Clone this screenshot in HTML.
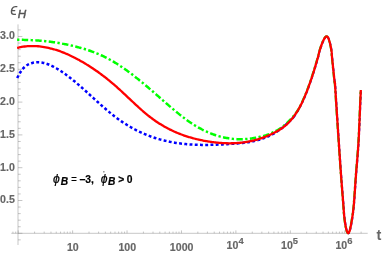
<!DOCTYPE html>
<html><head><meta charset="utf-8"><style>
html,body{margin:0;padding:0;background:#fff;}
svg{display:block;will-change:transform;font-family:"Liberation Sans",sans-serif;}
</style></head><body>
<svg width="382" height="256" viewBox="0 0 382 256">
<rect width="382" height="256" fill="#fff"/>
<path d="M18.0 24.4 V245" stroke="#8c8c8c" stroke-width="0.5" fill="none"/>
<path d="M11.3 233.3 H367.7" stroke="#8c8c8c" stroke-width="0.5" fill="none"/>
<path d="M18.0 239.86 h2.7 M18.0 233.30 h4.4 M18.0 226.74 h2.7 M18.0 220.18 h2.7 M18.0 213.62 h2.7 M18.0 207.06 h2.7 M18.0 200.50 h4.4 M18.0 193.94 h2.7 M18.0 187.38 h2.7 M18.0 180.82 h2.7 M18.0 174.26 h2.7 M18.0 167.70 h4.4 M18.0 161.14 h2.7 M18.0 154.58 h2.7 M18.0 148.02 h2.7 M18.0 141.46 h2.7 M18.0 134.90 h4.4 M18.0 128.34 h2.7 M18.0 121.78 h2.7 M18.0 115.22 h2.7 M18.0 108.66 h2.7 M18.0 102.10 h4.4 M18.0 95.54 h2.7 M18.0 88.98 h2.7 M18.0 82.42 h2.7 M18.0 75.86 h2.7 M18.0 69.30 h4.4 M18.0 62.74 h2.7 M18.0 56.18 h2.7 M18.0 49.62 h2.7 M18.0 43.06 h2.7 M18.0 36.50 h4.4 M18.0 29.94 h2.7 M12.93 233.3 v-1.7 M15.71 233.3 v-1.7 M18.20 233.3 v-2.9 M34.58 233.3 v-1.7 M44.16 233.3 v-1.7 M50.96 233.3 v-1.7 M56.24 233.3 v-1.7 M60.55 233.3 v-1.7 M64.19 233.3 v-1.7 M67.35 233.3 v-1.7 M70.13 233.3 v-1.7 M72.62 233.3 v-2.9 M89.00 233.3 v-1.7 M98.58 233.3 v-1.7 M105.38 233.3 v-1.7 M110.66 233.3 v-1.7 M114.97 233.3 v-1.7 M118.61 233.3 v-1.7 M121.77 233.3 v-1.7 M124.55 233.3 v-1.7 M127.04 233.3 v-2.9 M143.42 233.3 v-1.7 M153.00 233.3 v-1.7 M159.80 233.3 v-1.7 M165.08 233.3 v-1.7 M169.39 233.3 v-1.7 M173.03 233.3 v-1.7 M176.19 233.3 v-1.7 M178.97 233.3 v-1.7 M181.46 233.3 v-2.9 M197.84 233.3 v-1.7 M207.42 233.3 v-1.7 M214.22 233.3 v-1.7 M219.50 233.3 v-1.7 M223.81 233.3 v-1.7 M227.45 233.3 v-1.7 M230.61 233.3 v-1.7 M233.39 233.3 v-1.7 M235.88 233.3 v-2.9 M252.26 233.3 v-1.7 M261.84 233.3 v-1.7 M268.64 233.3 v-1.7 M273.92 233.3 v-1.7 M278.23 233.3 v-1.7 M281.87 233.3 v-1.7 M285.03 233.3 v-1.7 M287.81 233.3 v-1.7 M290.30 233.3 v-2.9 M306.68 233.3 v-1.7 M316.26 233.3 v-1.7 M323.06 233.3 v-1.7 M328.34 233.3 v-1.7 M332.65 233.3 v-1.7 M336.29 233.3 v-1.7 M339.45 233.3 v-1.7 M342.23 233.3 v-1.7 M344.72 233.3 v-2.9 M361.10 233.3 v-1.7" stroke="#8c8c8c" stroke-width="0.5" fill="none"/>
<path d="M17.20 78.06 C17.45 77.55 18.20 75.97 18.70 75.04 C19.20 74.11 19.70 73.25 20.20 72.46 C20.70 71.66 21.20 70.94 21.70 70.28 C22.20 69.61 22.70 69.01 23.20 68.45 C23.70 67.90 24.20 67.41 24.70 66.95 C25.20 66.50 25.70 66.10 26.20 65.74 C26.70 65.37 27.20 65.05 27.70 64.76 C28.20 64.48 28.70 64.23 29.20 64.00 C29.70 63.77 30.20 63.58 30.70 63.40 C31.20 63.22 31.70 63.07 32.20 62.93 C32.70 62.80 33.20 62.68 33.70 62.59 C34.20 62.49 34.70 62.41 35.20 62.35 C35.70 62.29 36.20 62.25 36.70 62.23 C37.20 62.20 37.70 62.19 38.20 62.20 C38.70 62.21 39.20 62.24 39.70 62.28 C40.20 62.32 40.70 62.38 41.20 62.45 C41.70 62.52 42.20 62.60 42.70 62.70 C43.20 62.80 43.70 62.92 44.20 63.05 C44.70 63.17 45.20 63.31 45.70 63.47 C46.20 63.62 46.70 63.78 47.20 63.96 C47.70 64.14 48.20 64.33 48.70 64.52 C49.20 64.72 49.70 64.93 50.20 65.15 C50.70 65.37 51.20 65.60 51.70 65.84 C52.20 66.08 52.70 66.33 53.20 66.58 C53.70 66.84 54.20 67.10 54.70 67.37 C55.20 67.65 55.70 67.92 56.20 68.21 C56.70 68.50 57.20 68.79 57.70 69.09 C58.20 69.39 58.70 69.70 59.20 70.01 C59.70 70.32 60.20 70.65 60.70 70.97 C61.20 71.30 61.70 71.63 62.20 71.97 C62.70 72.31 63.20 72.65 63.70 73.00 C64.20 73.35 64.70 73.71 65.20 74.07 C65.70 74.43 66.20 74.80 66.70 75.17 C67.20 75.54 67.70 75.92 68.20 76.30 C68.70 76.68 69.20 77.06 69.70 77.45 C70.20 77.84 70.70 78.24 71.20 78.64 C71.70 79.04 72.20 79.44 72.70 79.85 C73.20 80.25 73.70 80.67 74.20 81.08 C74.70 81.49 75.20 81.91 75.70 82.33 C76.20 82.75 76.70 83.18 77.20 83.60 C77.70 84.03 78.20 84.46 78.70 84.89 C79.20 85.33 79.70 85.76 80.20 86.20 C80.70 86.64 81.20 87.08 81.70 87.52 C82.20 87.96 82.70 88.41 83.20 88.85 C83.70 89.30 84.20 89.75 84.70 90.19 C85.20 90.64 85.70 91.09 86.20 91.55 C86.70 92.00 87.20 92.45 87.70 92.90 C88.20 93.36 88.70 93.81 89.20 94.27 C89.70 94.72 90.20 95.18 90.70 95.63 C91.20 96.09 91.70 96.54 92.20 97.00 C92.70 97.45 93.20 97.91 93.70 98.36 C94.20 98.82 94.70 99.28 95.20 99.73 C95.70 100.18 96.20 100.64 96.70 101.09 C97.20 101.54 97.70 101.99 98.20 102.44 C98.70 102.89 99.20 103.34 99.70 103.79 C100.20 104.24 100.70 104.68 101.20 105.13 C101.70 105.57 102.20 106.01 102.70 106.45 C103.20 106.89 103.70 107.33 104.20 107.77 C104.70 108.20 105.20 108.63 105.70 109.06 C106.20 109.49 106.70 109.92 107.20 110.35 C107.70 110.77 108.20 111.19 108.70 111.61 C109.20 112.03 109.70 112.44 110.20 112.85 C110.70 113.26 111.20 113.67 111.70 114.07 C112.20 114.47 112.70 114.87 113.20 115.27 C113.70 115.66 114.20 116.05 114.70 116.44 C115.20 116.82 115.70 117.21 116.20 117.58 C116.70 117.96 117.20 118.33 117.70 118.70 C118.20 119.06 118.70 119.42 119.20 119.78 C119.70 120.14 120.20 120.49 120.70 120.84 C121.20 121.18 121.70 121.53 122.20 121.87 C122.70 122.20 123.20 122.54 123.70 122.86 C124.20 123.19 124.70 123.52 125.20 123.84 C125.70 124.16 126.20 124.47 126.70 124.78 C127.20 125.09 127.70 125.40 128.20 125.70 C128.70 126.00 129.20 126.30 129.70 126.59 C130.20 126.88 130.70 127.17 131.20 127.46 C131.70 127.74 132.20 128.02 132.70 128.29 C133.20 128.57 133.70 128.84 134.20 129.11 C134.70 129.37 135.20 129.64 135.70 129.90 C136.20 130.15 136.70 130.41 137.20 130.66 C137.70 130.91 138.20 131.15 138.70 131.40 C139.20 131.64 139.70 131.88 140.20 132.11 C140.70 132.35 141.20 132.58 141.70 132.80 C142.20 133.03 142.70 133.25 143.20 133.47 C143.70 133.69 144.20 133.90 144.70 134.11 C145.20 134.32 145.70 134.53 146.20 134.73 C146.70 134.94 147.20 135.14 147.70 135.33 C148.20 135.53 148.70 135.72 149.20 135.91 C149.70 136.10 150.20 136.28 150.70 136.46 C151.20 136.64 151.70 136.82 152.20 137.00 C152.70 137.17 153.20 137.34 153.70 137.51 C154.20 137.68 154.70 137.84 155.20 138.00 C155.70 138.16 156.20 138.32 156.70 138.47 C157.20 138.63 157.70 138.78 158.20 138.92 C158.70 139.07 159.20 139.21 159.70 139.35 C160.20 139.50 160.70 139.63 161.20 139.77 C161.70 139.90 162.20 140.03 162.70 140.16 C163.20 140.29 163.70 140.41 164.20 140.54 C164.70 140.66 165.20 140.78 165.70 140.89 C166.20 141.01 166.70 141.12 167.20 141.23 C167.70 141.34 168.20 141.45 168.70 141.55 C169.20 141.66 169.70 141.76 170.20 141.86 C170.70 141.95 171.20 142.05 171.70 142.14 C172.20 142.24 172.70 142.33 173.20 142.41 C173.70 142.50 174.20 142.59 174.70 142.67 C175.20 142.75 175.70 142.83 176.20 142.91 C176.70 142.98 177.20 143.06 177.70 143.13 C178.20 143.20 178.70 143.27 179.20 143.34 C179.70 143.41 180.20 143.47 180.70 143.53 C181.20 143.60 181.70 143.65 182.20 143.71 C182.70 143.77 183.20 143.82 183.70 143.88 C184.20 143.93 184.70 143.98 185.20 144.03 C185.70 144.08 186.20 144.12 186.70 144.17 C187.20 144.21 187.70 144.25 188.20 144.29 C188.70 144.33 189.20 144.37 189.70 144.41 C190.20 144.44 190.70 144.47 191.20 144.51 C191.70 144.54 192.20 144.57 192.70 144.59 C193.20 144.62 193.70 144.65 194.20 144.67 C194.70 144.69 195.20 144.72 195.70 144.74 C196.20 144.76 196.70 144.77 197.20 144.79 C197.70 144.81 198.20 144.82 198.70 144.84 C199.20 144.85 199.70 144.86 200.20 144.87 C200.70 144.88 201.20 144.89 201.70 144.89 C202.20 144.90 202.70 144.91 203.20 144.91 C203.70 144.91 204.20 144.91 204.70 144.91 C205.20 144.92 205.70 144.91 206.20 144.91 C206.70 144.91 207.20 144.91 207.70 144.90 C208.20 144.90 208.70 144.89 209.20 144.88 C209.70 144.87 210.20 144.86 210.70 144.85 C211.20 144.84 211.70 144.83 212.20 144.82 C212.70 144.81 213.20 144.79 213.70 144.78 C214.20 144.76 214.70 144.75 215.20 144.73 C215.70 144.71 216.20 144.69 216.70 144.68 C217.20 144.66 217.70 144.64 218.20 144.62 C218.70 144.59 219.20 144.57 219.70 144.55 C220.20 144.53 220.70 144.50 221.20 144.48 C221.70 144.45 222.20 144.43 222.70 144.40 C223.20 144.38 223.70 144.35 224.20 144.32 C224.70 144.29 225.20 144.27 225.70 144.24 C226.20 144.21 226.70 144.18 227.20 144.15 C227.70 144.12 228.20 144.09 228.70 144.06 C229.20 144.02 229.70 143.99 230.20 143.96 C230.70 143.93 231.20 143.90 231.70 143.86 C232.20 143.83 232.70 143.80 233.20 143.76 C233.70 143.73 234.20 143.69 234.70 143.65 C235.20 143.62 235.70 143.58 236.20 143.54 C236.70 143.50 237.20 143.46 237.70 143.42 C238.20 143.38 238.70 143.33 239.20 143.29 C239.70 143.24 240.20 143.20 240.70 143.15 C241.20 143.10 241.70 143.04 242.20 142.99 C242.70 142.93 243.20 142.88 243.70 142.82 C244.20 142.76 244.70 142.69 245.20 142.63 C245.70 142.56 246.20 142.49 246.70 142.42 C247.20 142.35 247.70 142.27 248.20 142.19 C248.70 142.11 249.20 142.03 249.70 141.94 C250.20 141.86 250.70 141.76 251.20 141.67 C251.70 141.57 252.20 141.47 252.70 141.37 C253.20 141.27 253.70 141.16 254.20 141.04 C254.70 140.93 255.20 140.81 255.70 140.69 C256.20 140.57 256.70 140.44 257.20 140.30 C257.70 140.17 258.20 140.03 258.70 139.89 C259.20 139.74 259.70 139.59 260.20 139.43 C260.70 139.28 261.20 139.12 261.70 138.95 C262.20 138.78 262.70 138.60 263.20 138.42 C263.70 138.24 264.20 138.05 264.70 137.86 C265.20 137.66 265.70 137.46 266.20 137.25 C266.70 137.05 267.20 136.83 267.70 136.61 C268.20 136.38 268.70 136.15 269.20 135.92 C269.70 135.68 270.20 135.43 270.70 135.18 C271.20 134.93 271.70 134.66 272.20 134.39 C272.70 134.12 273.20 133.85 273.70 133.56 C274.20 133.27 274.70 132.98 275.20 132.68 C275.70 132.37 276.20 132.06 276.70 131.74 C277.20 131.42 277.70 131.09 278.20 130.75 C278.70 130.41 279.20 130.06 279.70 129.70 C280.20 129.34 280.70 128.97 281.20 128.59 C281.70 128.21 282.20 127.82 282.70 127.43 C283.20 127.03 283.70 126.62 284.20 126.20 C284.70 125.78 285.20 125.35 285.70 124.91 C286.20 124.47 286.70 124.02 287.20 123.55 C287.70 123.09 288.20 122.62 288.70 122.13 C289.20 121.65 289.70 121.15 290.20 120.65 C290.70 120.14 291.20 119.62 291.70 119.09 C292.20 118.56 292.82 117.88 293.20 117.46 C293.58 117.04 293.87 116.71 294.00 116.56" stroke="#0000ff" stroke-width="2.5" fill="none" stroke-dasharray="2.9 2.34"/>
<path d="M294.00 116.56 C294.35 116.00 295.50 114.15 296.10 113.19 C296.70 112.23 297.10 111.62 297.60 110.79 C298.10 109.96 298.60 109.10 299.10 108.20 C299.60 107.30 300.10 106.37 300.60 105.40 C301.10 104.43 301.60 103.43 302.10 102.39 C302.60 101.35 303.10 100.27 303.60 99.15 C304.10 98.03 304.60 96.87 305.10 95.67 C305.60 94.47 306.10 93.24 306.60 91.97 C307.10 90.70 307.60 89.39 308.10 88.04 C308.60 86.70 309.10 85.32 309.60 83.91 C310.10 82.49 310.60 81.04 311.10 79.56 C311.60 78.08 312.10 76.56 312.60 75.02 C313.10 73.47 313.60 71.89 314.10 70.28 C314.60 68.67 315.10 67.03 315.60 65.35 C316.10 63.68 316.60 61.98 317.10 60.25 C317.60 58.52 318.27 56.26 318.60 54.96 C318.93 53.66 318.62 54.11 319.10 52.45 C319.58 50.79 320.75 47.08 321.50 45.00 C322.25 42.92 322.97 41.30 323.60 40.00 C324.23 38.70 324.80 37.82 325.30 37.20 C325.80 36.58 326.18 36.30 326.60 36.30 C327.02 36.30 327.37 36.50 327.80 37.20 C328.23 37.90 328.75 39.12 329.20 40.50 C329.65 41.88 330.09 43.58 330.50 45.50 C330.91 47.42 331.43 50.25 331.66 52.00 C331.89 53.75 331.41 51.00 331.90 56.00 C332.39 61.00 334.08 77.33 334.60 82.00 C335.12 86.67 334.59 78.33 335.00 84.00 C335.41 89.67 336.40 106.00 337.05 116.00 C337.70 126.00 338.22 134.00 338.90 144.00 C339.57 154.00 340.37 166.00 341.10 176.00 C341.83 186.00 342.78 197.33 343.30 204.00 C343.82 210.67 343.82 212.33 344.20 216.00 C344.58 219.67 345.13 223.38 345.60 226.00 C346.07 228.62 346.57 230.48 347.00 231.70 C347.43 232.92 347.80 233.30 348.20 233.30 C348.60 233.30 348.97 232.92 349.40 231.70 C349.83 230.48 350.28 228.62 350.80 226.00 C351.32 223.38 351.98 219.67 352.50 216.00 C353.02 212.33 353.33 210.67 353.90 204.00 C354.47 197.33 355.15 186.00 355.90 176.00 C356.65 166.00 357.77 154.00 358.40 144.00 C359.03 134.00 359.30 125.00 359.70 116.00 C360.10 107.00 360.62 94.33 360.80 90.00" stroke="#0000ff" stroke-width="1.9" fill="none" stroke-dasharray="2.9 2.34" transform="translate(0.2,0.1)"/>
<path d="M17.10 39.83 C17.35 39.83 18.10 39.83 18.60 39.83 C19.10 39.83 19.60 39.83 20.10 39.83 C20.60 39.83 21.10 39.84 21.60 39.84 C22.10 39.85 22.60 39.86 23.10 39.86 C23.60 39.87 24.10 39.88 24.60 39.89 C25.10 39.90 25.60 39.92 26.10 39.93 C26.60 39.94 27.10 39.96 27.60 39.97 C28.10 39.99 28.60 40.01 29.10 40.03 C29.60 40.05 30.10 40.07 30.60 40.09 C31.10 40.11 31.60 40.14 32.10 40.16 C32.60 40.19 33.10 40.22 33.60 40.24 C34.10 40.27 34.60 40.30 35.10 40.33 C35.60 40.36 36.10 40.40 36.60 40.43 C37.10 40.47 37.60 40.50 38.10 40.54 C38.60 40.58 39.10 40.62 39.60 40.66 C40.10 40.70 40.60 40.74 41.10 40.78 C41.60 40.83 42.10 40.87 42.60 40.92 C43.10 40.97 43.60 41.02 44.10 41.07 C44.60 41.12 45.10 41.17 45.60 41.22 C46.10 41.27 46.60 41.33 47.10 41.39 C47.60 41.44 48.10 41.50 48.60 41.56 C49.10 41.62 49.60 41.68 50.10 41.75 C50.60 41.81 51.10 41.88 51.60 41.94 C52.10 42.01 52.60 42.08 53.10 42.15 C53.60 42.22 54.10 42.29 54.60 42.36 C55.10 42.44 55.60 42.51 56.10 42.59 C56.60 42.67 57.10 42.75 57.60 42.83 C58.10 42.91 58.60 42.99 59.10 43.08 C59.60 43.16 60.10 43.25 60.60 43.34 C61.10 43.42 61.60 43.51 62.10 43.61 C62.60 43.70 63.10 43.79 63.60 43.89 C64.10 43.98 64.60 44.08 65.10 44.18 C65.60 44.28 66.10 44.38 66.60 44.48 C67.10 44.59 67.60 44.69 68.10 44.80 C68.60 44.90 69.10 45.01 69.60 45.12 C70.10 45.23 70.60 45.35 71.10 45.46 C71.60 45.58 72.10 45.69 72.60 45.81 C73.10 45.93 73.60 46.05 74.10 46.17 C74.60 46.30 75.10 46.42 75.60 46.55 C76.10 46.67 76.60 46.80 77.10 46.93 C77.60 47.06 78.10 47.19 78.60 47.33 C79.10 47.46 79.60 47.60 80.10 47.74 C80.60 47.88 81.10 48.02 81.60 48.16 C82.10 48.31 82.60 48.45 83.10 48.60 C83.60 48.75 84.10 48.90 84.60 49.06 C85.10 49.21 85.60 49.37 86.10 49.52 C86.60 49.68 87.10 49.85 87.60 50.01 C88.10 50.18 88.60 50.34 89.10 50.51 C89.60 50.68 90.10 50.86 90.60 51.03 C91.10 51.21 91.60 51.39 92.10 51.57 C92.60 51.76 93.10 51.94 93.60 52.13 C94.10 52.32 94.60 52.51 95.10 52.71 C95.60 52.91 96.10 53.11 96.60 53.31 C97.10 53.51 97.60 53.72 98.10 53.93 C98.60 54.14 99.10 54.35 99.60 54.57 C100.10 54.79 100.60 55.01 101.10 55.24 C101.60 55.46 102.10 55.69 102.60 55.92 C103.10 56.16 103.60 56.39 104.10 56.64 C104.60 56.88 105.10 57.12 105.60 57.37 C106.10 57.62 106.60 57.88 107.10 58.14 C107.60 58.39 108.10 58.66 108.60 58.92 C109.10 59.19 109.60 59.46 110.10 59.74 C110.60 60.02 111.10 60.30 111.60 60.58 C112.10 60.87 112.60 61.16 113.10 61.45 C113.60 61.75 114.10 62.05 114.60 62.35 C115.10 62.65 115.60 62.96 116.10 63.27 C116.60 63.58 117.10 63.89 117.60 64.21 C118.10 64.53 118.60 64.86 119.10 65.18 C119.60 65.51 120.10 65.84 120.60 66.17 C121.10 66.51 121.60 66.85 122.10 67.19 C122.60 67.53 123.10 67.87 123.60 68.22 C124.10 68.57 124.60 68.92 125.10 69.28 C125.60 69.63 126.10 69.99 126.60 70.35 C127.10 70.71 127.60 71.08 128.10 71.45 C128.60 71.81 129.10 72.19 129.60 72.56 C130.10 72.93 130.60 73.31 131.10 73.69 C131.60 74.07 132.10 74.45 132.60 74.84 C133.10 75.22 133.60 75.61 134.10 76.00 C134.60 76.39 135.10 76.78 135.60 77.18 C136.10 77.57 136.60 77.97 137.10 78.37 C137.60 78.77 138.10 79.17 138.60 79.57 C139.10 79.98 139.60 80.38 140.10 80.79 C140.60 81.20 141.10 81.61 141.60 82.02 C142.10 82.43 142.60 82.85 143.10 83.26 C143.60 83.68 144.10 84.10 144.60 84.52 C145.10 84.94 145.60 85.36 146.10 85.78 C146.60 86.20 147.10 86.62 147.60 87.05 C148.10 87.47 148.60 87.90 149.10 88.33 C149.60 88.76 150.10 89.19 150.60 89.62 C151.10 90.05 151.60 90.48 152.10 90.91 C152.60 91.34 153.10 91.78 153.60 92.21 C154.10 92.64 154.60 93.08 155.10 93.51 C155.60 93.95 156.10 94.39 156.60 94.82 C157.10 95.26 157.60 95.70 158.10 96.14 C158.60 96.57 159.10 97.01 159.60 97.45 C160.10 97.89 160.60 98.33 161.10 98.77 C161.60 99.21 162.10 99.65 162.60 100.08 C163.10 100.52 163.60 100.96 164.10 101.40 C164.60 101.84 165.10 102.27 165.60 102.71 C166.10 103.15 166.60 103.58 167.10 104.02 C167.60 104.45 168.10 104.89 168.60 105.32 C169.10 105.75 169.60 106.18 170.10 106.61 C170.60 107.04 171.10 107.47 171.60 107.89 C172.10 108.32 172.60 108.74 173.10 109.16 C173.60 109.59 174.10 110.01 174.60 110.42 C175.10 110.84 175.60 111.26 176.10 111.67 C176.60 112.08 177.10 112.49 177.60 112.90 C178.10 113.31 178.60 113.71 179.10 114.11 C179.60 114.51 180.10 114.91 180.60 115.30 C181.10 115.70 181.60 116.09 182.10 116.48 C182.60 116.87 183.10 117.25 183.60 117.63 C184.10 118.01 184.60 118.39 185.10 118.76 C185.60 119.13 186.10 119.50 186.60 119.86 C187.10 120.23 187.60 120.59 188.10 120.94 C188.60 121.30 189.10 121.65 189.60 121.99 C190.10 122.34 190.60 122.68 191.10 123.01 C191.60 123.35 192.10 123.68 192.60 124.00 C193.10 124.32 193.60 124.64 194.10 124.96 C194.60 125.27 195.10 125.58 195.60 125.88 C196.10 126.19 196.60 126.48 197.10 126.78 C197.60 127.07 198.10 127.36 198.60 127.64 C199.10 127.92 199.60 128.20 200.10 128.47 C200.60 128.74 201.10 129.00 201.60 129.26 C202.10 129.52 202.60 129.78 203.10 130.03 C203.60 130.28 204.10 130.52 204.60 130.76 C205.10 131.00 205.60 131.24 206.10 131.47 C206.60 131.70 207.10 131.92 207.60 132.14 C208.10 132.36 208.60 132.57 209.10 132.78 C209.60 132.99 210.10 133.19 210.60 133.39 C211.10 133.59 211.60 133.78 212.10 133.97 C212.60 134.15 213.10 134.34 213.60 134.51 C214.10 134.69 214.60 134.86 215.10 135.03 C215.60 135.20 216.10 135.36 216.60 135.52 C217.10 135.67 217.60 135.83 218.10 135.97 C218.60 136.12 219.10 136.26 219.60 136.40 C220.10 136.54 220.60 136.67 221.10 136.79 C221.60 136.92 222.10 137.04 222.60 137.16 C223.10 137.28 223.60 137.39 224.10 137.49 C224.60 137.60 225.10 137.70 225.60 137.80 C226.10 137.90 226.60 137.99 227.10 138.07 C227.60 138.16 228.10 138.24 228.60 138.32 C229.10 138.40 229.60 138.47 230.10 138.54 C230.60 138.60 231.10 138.67 231.60 138.72 C232.10 138.78 232.60 138.83 233.10 138.88 C233.60 138.93 234.10 138.97 234.60 139.01 C235.10 139.05 235.60 139.08 236.10 139.11 C236.60 139.13 237.10 139.16 237.60 139.18 C238.10 139.19 238.60 139.21 239.10 139.22 C239.60 139.23 240.10 139.23 240.60 139.23 C241.10 139.23 241.60 139.22 242.10 139.21 C242.60 139.20 243.10 139.19 243.60 139.17 C244.10 139.15 244.60 139.12 245.10 139.10 C245.60 139.07 246.10 139.03 246.60 138.99 C247.10 138.95 247.60 138.91 248.10 138.86 C248.60 138.82 249.10 138.76 249.60 138.71 C250.10 138.65 250.60 138.59 251.10 138.52 C251.60 138.45 252.10 138.38 252.60 138.31 C253.10 138.23 253.60 138.15 254.10 138.07 C254.60 137.98 255.10 137.89 255.60 137.80 C256.10 137.70 256.60 137.60 257.10 137.50 C257.60 137.40 258.10 137.29 258.60 137.18 C259.10 137.06 259.60 136.95 260.10 136.82 C260.60 136.70 261.10 136.58 261.60 136.45 C262.10 136.32 262.60 136.18 263.10 136.04 C263.60 135.90 264.10 135.76 264.60 135.61 C265.10 135.45 265.60 135.30 266.10 135.14 C266.60 134.97 267.10 134.81 267.60 134.63 C268.10 134.45 268.60 134.27 269.10 134.08 C269.60 133.89 270.10 133.70 270.60 133.49 C271.10 133.28 271.60 133.07 272.10 132.85 C272.60 132.63 273.10 132.40 273.60 132.16 C274.10 131.92 274.60 131.67 275.10 131.41 C275.60 131.15 276.10 130.88 276.60 130.60 C277.10 130.32 277.60 130.02 278.10 129.72 C278.60 129.42 279.10 129.11 279.60 128.78 C280.10 128.45 280.60 128.12 281.10 127.77 C281.60 127.42 282.10 127.06 282.60 126.68 C283.10 126.30 283.60 125.92 284.10 125.51 C284.60 125.11 285.10 124.69 285.60 124.26 C286.10 123.83 286.60 123.38 287.10 122.92 C287.60 122.46 288.10 121.98 288.60 121.49 C289.10 120.99 289.60 120.48 290.10 119.95 C290.60 119.42 291.10 118.88 291.60 118.31 C292.10 117.75 292.60 117.16 293.10 116.56 C293.60 115.96 294.10 115.34 294.60 114.70 C295.10 114.05 295.60 113.39 296.10 112.71 C296.60 112.03 297.10 111.32 297.60 110.60 C298.10 109.87 298.70 108.96 299.10 108.35 C299.50 107.74 299.85 107.18 300.00 106.94" stroke="#00ff00" stroke-width="2.5" fill="none" stroke-dasharray="2.3 2.4 6.4 2.4"/>
<path d="M300.00 106.94 C300.35 106.18 301.50 103.69 302.10 102.39 C302.70 101.09 303.10 100.27 303.60 99.15 C304.10 98.03 304.60 96.87 305.10 95.67 C305.60 94.47 306.10 93.24 306.60 91.97 C307.10 90.70 307.60 89.39 308.10 88.04 C308.60 86.70 309.10 85.32 309.60 83.91 C310.10 82.49 310.60 81.04 311.10 79.56 C311.60 78.08 312.10 76.56 312.60 75.02 C313.10 73.47 313.60 71.89 314.10 70.28 C314.60 68.67 315.10 67.03 315.60 65.35 C316.10 63.68 316.60 61.98 317.10 60.25 C317.60 58.52 318.27 56.26 318.60 54.96 C318.93 53.66 318.62 54.11 319.10 52.45 C319.58 50.79 320.75 47.08 321.50 45.00 C322.25 42.92 322.97 41.30 323.60 40.00 C324.23 38.70 324.80 37.82 325.30 37.20 C325.80 36.58 326.18 36.30 326.60 36.30 C327.02 36.30 327.37 36.50 327.80 37.20 C328.23 37.90 328.75 39.12 329.20 40.50 C329.65 41.88 330.09 43.58 330.50 45.50 C330.91 47.42 331.43 50.25 331.66 52.00 C331.89 53.75 331.41 51.00 331.90 56.00 C332.39 61.00 334.08 77.33 334.60 82.00 C335.12 86.67 334.59 78.33 335.00 84.00 C335.41 89.67 336.40 106.00 337.05 116.00 C337.70 126.00 338.22 134.00 338.90 144.00 C339.57 154.00 340.37 166.00 341.10 176.00 C341.83 186.00 342.78 197.33 343.30 204.00 C343.82 210.67 343.82 212.33 344.20 216.00 C344.58 219.67 345.13 223.38 345.60 226.00 C346.07 228.62 346.57 230.48 347.00 231.70 C347.43 232.92 347.80 233.30 348.20 233.30 C348.60 233.30 348.97 232.92 349.40 231.70 C349.83 230.48 350.28 228.62 350.80 226.00 C351.32 223.38 351.98 219.67 352.50 216.00 C353.02 212.33 353.33 210.67 353.90 204.00 C354.47 197.33 355.15 186.00 355.90 176.00 C356.65 166.00 357.77 154.00 358.40 144.00 C359.03 134.00 359.30 125.00 359.70 116.00 C360.10 107.00 360.62 94.33 360.80 90.00" stroke="#00ff00" stroke-width="2.1" fill="none" stroke-dasharray="2.3 2.4 6.4 2.4" transform="translate(-0.2,-0.1)"/>
<path d="M17.10 47.86 C17.35 47.80 18.10 47.62 18.60 47.51 C19.10 47.40 19.60 47.29 20.10 47.20 C20.60 47.10 21.10 47.01 21.60 46.92 C22.10 46.84 22.60 46.76 23.10 46.69 C23.60 46.62 24.10 46.55 24.60 46.49 C25.10 46.43 25.60 46.37 26.10 46.33 C26.60 46.28 27.10 46.23 27.60 46.20 C28.10 46.16 28.60 46.13 29.10 46.11 C29.60 46.08 30.10 46.06 30.60 46.05 C31.10 46.04 31.60 46.03 32.10 46.03 C32.60 46.02 33.10 46.03 33.60 46.04 C34.10 46.05 34.60 46.06 35.10 46.08 C35.60 46.10 36.10 46.13 36.60 46.16 C37.10 46.19 37.60 46.23 38.10 46.27 C38.60 46.31 39.10 46.36 39.60 46.41 C40.10 46.46 40.60 46.52 41.10 46.58 C41.60 46.65 42.10 46.72 42.60 46.79 C43.10 46.86 43.60 46.94 44.10 47.02 C44.60 47.11 45.10 47.20 45.60 47.29 C46.10 47.38 46.60 47.48 47.10 47.58 C47.60 47.69 48.10 47.80 48.60 47.91 C49.10 48.02 49.60 48.14 50.10 48.26 C50.60 48.38 51.10 48.51 51.60 48.64 C52.10 48.77 52.60 48.91 53.10 49.05 C53.60 49.19 54.10 49.34 54.60 49.49 C55.10 49.64 55.60 49.79 56.10 49.95 C56.60 50.11 57.10 50.27 57.60 50.44 C58.10 50.61 58.60 50.78 59.10 50.95 C59.60 51.13 60.10 51.31 60.60 51.50 C61.10 51.68 61.60 51.87 62.10 52.06 C62.60 52.25 63.10 52.45 63.60 52.65 C64.10 52.85 64.60 53.06 65.10 53.27 C65.60 53.47 66.10 53.69 66.60 53.90 C67.10 54.12 67.60 54.34 68.10 54.56 C68.60 54.79 69.10 55.02 69.60 55.25 C70.10 55.48 70.60 55.71 71.10 55.95 C71.60 56.19 72.10 56.43 72.60 56.68 C73.10 56.93 73.60 57.18 74.10 57.43 C74.60 57.68 75.10 57.94 75.60 58.20 C76.10 58.46 76.60 58.72 77.10 58.99 C77.60 59.25 78.10 59.52 78.60 59.80 C79.10 60.07 79.60 60.35 80.10 60.63 C80.60 60.90 81.10 61.19 81.60 61.47 C82.10 61.76 82.60 62.05 83.10 62.34 C83.60 62.63 84.10 62.93 84.60 63.22 C85.10 63.52 85.60 63.82 86.10 64.13 C86.60 64.43 87.10 64.74 87.60 65.05 C88.10 65.36 88.60 65.68 89.10 65.99 C89.60 66.31 90.10 66.63 90.60 66.95 C91.10 67.28 91.60 67.61 92.10 67.94 C92.60 68.27 93.10 68.60 93.60 68.94 C94.10 69.28 94.60 69.62 95.10 69.96 C95.60 70.30 96.10 70.65 96.60 71.00 C97.10 71.35 97.60 71.71 98.10 72.06 C98.60 72.42 99.10 72.78 99.60 73.15 C100.10 73.51 100.60 73.88 101.10 74.25 C101.60 74.62 102.10 74.99 102.60 75.37 C103.10 75.75 103.60 76.13 104.10 76.52 C104.60 76.90 105.10 77.29 105.60 77.68 C106.10 78.08 106.60 78.47 107.10 78.87 C107.60 79.27 108.10 79.67 108.60 80.08 C109.10 80.49 109.60 80.90 110.10 81.31 C110.60 81.72 111.10 82.14 111.60 82.56 C112.10 82.98 112.60 83.41 113.10 83.84 C113.60 84.26 114.10 84.70 114.60 85.13 C115.10 85.57 115.60 86.01 116.10 86.45 C116.60 86.89 117.10 87.34 117.60 87.79 C118.10 88.24 118.60 88.69 119.10 89.15 C119.60 89.60 120.10 90.06 120.60 90.52 C121.10 90.98 121.60 91.44 122.10 91.91 C122.60 92.37 123.10 92.84 123.60 93.30 C124.10 93.77 124.60 94.24 125.10 94.71 C125.60 95.18 126.10 95.65 126.60 96.12 C127.10 96.59 127.60 97.07 128.10 97.54 C128.60 98.01 129.10 98.48 129.60 98.95 C130.10 99.42 130.60 99.90 131.10 100.37 C131.60 100.84 132.10 101.31 132.60 101.78 C133.10 102.24 133.60 102.71 134.10 103.18 C134.60 103.64 135.10 104.11 135.60 104.57 C136.10 105.03 136.60 105.49 137.10 105.95 C137.60 106.41 138.10 106.87 138.60 107.32 C139.10 107.77 139.60 108.22 140.10 108.67 C140.60 109.11 141.10 109.56 141.60 110.00 C142.10 110.44 142.60 110.87 143.10 111.30 C143.60 111.73 144.10 112.16 144.60 112.59 C145.10 113.01 145.60 113.43 146.10 113.84 C146.60 114.25 147.10 114.66 147.60 115.07 C148.10 115.47 148.60 115.87 149.10 116.26 C149.60 116.65 150.10 117.04 150.60 117.42 C151.10 117.80 151.60 118.17 152.10 118.54 C152.60 118.91 153.10 119.28 153.60 119.63 C154.10 119.99 154.60 120.35 155.10 120.69 C155.60 121.04 156.10 121.38 156.60 121.72 C157.10 122.06 157.60 122.39 158.10 122.71 C158.60 123.04 159.10 123.36 159.60 123.68 C160.10 123.99 160.60 124.31 161.10 124.61 C161.60 124.92 162.10 125.22 162.60 125.51 C163.10 125.81 163.60 126.10 164.10 126.39 C164.60 126.67 165.10 126.95 165.60 127.23 C166.10 127.51 166.60 127.78 167.10 128.05 C167.60 128.31 168.10 128.58 168.60 128.84 C169.10 129.09 169.60 129.35 170.10 129.60 C170.60 129.85 171.10 130.09 171.60 130.33 C172.10 130.57 172.60 130.81 173.10 131.04 C173.60 131.27 174.10 131.50 174.60 131.72 C175.10 131.94 175.60 132.16 176.10 132.38 C176.60 132.59 177.10 132.80 177.60 133.01 C178.10 133.22 178.60 133.42 179.10 133.62 C179.60 133.82 180.10 134.01 180.60 134.20 C181.10 134.39 181.60 134.58 182.10 134.76 C182.60 134.95 183.10 135.13 183.60 135.30 C184.10 135.48 184.60 135.65 185.10 135.82 C185.60 135.99 186.10 136.16 186.60 136.32 C187.10 136.48 187.60 136.64 188.10 136.79 C188.60 136.95 189.10 137.10 189.60 137.25 C190.10 137.40 190.60 137.54 191.10 137.69 C191.60 137.83 192.10 137.97 192.60 138.10 C193.10 138.24 193.60 138.37 194.10 138.50 C194.60 138.63 195.10 138.76 195.60 138.88 C196.10 139.01 196.60 139.13 197.10 139.25 C197.60 139.36 198.10 139.48 198.60 139.59 C199.10 139.70 199.60 139.81 200.10 139.92 C200.60 140.03 201.10 140.13 201.60 140.24 C202.10 140.34 202.60 140.44 203.10 140.53 C203.60 140.63 204.10 140.73 204.60 140.82 C205.10 140.91 205.60 141.00 206.10 141.09 C206.60 141.18 207.10 141.26 207.60 141.35 C208.10 141.43 208.60 141.51 209.10 141.59 C209.60 141.67 210.10 141.74 210.60 141.82 C211.10 141.89 211.60 141.96 212.10 142.03 C212.60 142.10 213.10 142.16 213.60 142.23 C214.10 142.29 214.60 142.35 215.10 142.41 C215.60 142.47 216.10 142.52 216.60 142.58 C217.10 142.63 217.60 142.68 218.10 142.73 C218.60 142.77 219.10 142.82 219.60 142.86 C220.10 142.90 220.60 142.94 221.10 142.98 C221.60 143.01 222.10 143.04 222.60 143.07 C223.10 143.10 223.60 143.13 224.10 143.15 C224.60 143.18 225.10 143.20 225.60 143.22 C226.10 143.23 226.60 143.25 227.10 143.26 C227.60 143.27 228.10 143.28 228.60 143.28 C229.10 143.29 229.60 143.29 230.10 143.29 C230.60 143.29 231.10 143.28 231.60 143.27 C232.10 143.26 232.60 143.25 233.10 143.24 C233.60 143.22 234.10 143.20 234.60 143.18 C235.10 143.16 235.60 143.13 236.10 143.10 C236.60 143.07 237.10 143.04 237.60 143.00 C238.10 142.96 238.60 142.92 239.10 142.88 C239.60 142.84 240.10 142.79 240.60 142.74 C241.10 142.68 241.60 142.63 242.10 142.57 C242.60 142.51 243.10 142.45 243.60 142.38 C244.10 142.31 244.60 142.24 245.10 142.16 C245.60 142.09 246.10 142.01 246.60 141.93 C247.10 141.84 247.60 141.76 248.10 141.66 C248.60 141.57 249.10 141.48 249.60 141.38 C250.10 141.28 250.60 141.17 251.10 141.07 C251.60 140.96 252.10 140.84 252.60 140.73 C253.10 140.61 253.60 140.49 254.10 140.36 C254.60 140.24 255.10 140.11 255.60 139.97 C256.10 139.84 256.60 139.70 257.10 139.56 C257.60 139.41 258.10 139.26 258.60 139.11 C259.10 138.96 259.60 138.80 260.10 138.64 C260.60 138.48 261.10 138.31 261.60 138.14 C262.10 137.97 262.60 137.79 263.10 137.61 C263.60 137.43 264.10 137.24 264.60 137.05 C265.10 136.86 265.60 136.67 266.10 136.47 C266.60 136.27 267.10 136.06 267.60 135.85 C268.10 135.64 268.60 135.43 269.10 135.21 C269.60 134.98 270.10 134.76 270.60 134.53 C271.10 134.30 271.60 134.06 272.10 133.82 C272.60 133.58 273.10 133.33 273.60 133.08 C274.10 132.83 274.60 132.57 275.10 132.31 C275.60 132.05 276.10 131.78 276.60 131.51 C277.10 131.23 277.60 130.95 278.10 130.66 C278.60 130.37 279.10 130.07 279.60 129.76 C280.10 129.45 280.60 129.13 281.10 128.80 C281.60 128.46 282.10 128.12 282.60 127.75 C283.10 127.39 283.60 127.02 284.10 126.63 C284.60 126.24 285.10 125.83 285.60 125.40 C286.10 124.98 286.60 124.53 287.10 124.07 C287.60 123.61 288.10 123.12 288.60 122.62 C289.10 122.11 289.60 121.59 290.10 121.04 C290.60 120.48 291.10 119.91 291.60 119.31 C292.10 118.71 292.60 118.09 293.10 117.44 C293.60 116.78 294.10 116.11 294.60 115.40 C295.10 114.69 295.60 113.96 296.10 113.19 C296.60 112.42 297.10 111.62 297.60 110.79 C298.10 109.96 298.60 109.10 299.10 108.20 C299.60 107.30 300.10 106.37 300.60 105.40 C301.10 104.43 301.60 103.43 302.10 102.39 C302.60 101.35 303.10 100.27 303.60 99.15 C304.10 98.03 304.60 96.87 305.10 95.67 C305.60 94.47 306.10 93.24 306.60 91.97 C307.10 90.70 307.60 89.39 308.10 88.04 C308.60 86.70 309.10 85.32 309.60 83.91 C310.10 82.49 310.60 81.04 311.10 79.56 C311.60 78.08 312.10 76.56 312.60 75.02 C313.10 73.47 313.60 71.89 314.10 70.28 C314.60 68.67 315.10 67.03 315.60 65.35 C316.10 63.68 316.60 61.98 317.10 60.25 C317.60 58.52 318.27 56.26 318.60 54.96 C318.93 53.66 318.62 54.11 319.10 52.45 C319.58 50.79 320.75 47.08 321.50 45.00 C322.25 42.92 322.97 41.30 323.60 40.00 C324.23 38.70 324.80 37.82 325.30 37.20 C325.80 36.58 326.18 36.30 326.60 36.30 C327.02 36.30 327.37 36.50 327.80 37.20 C328.23 37.90 328.75 39.12 329.20 40.50 C329.65 41.88 330.09 43.58 330.50 45.50 C330.91 47.42 331.43 50.25 331.66 52.00 C331.89 53.75 331.41 51.00 331.90 56.00 C332.39 61.00 334.08 77.33 334.60 82.00 C335.12 86.67 334.59 78.33 335.00 84.00 C335.41 89.67 336.40 106.00 337.05 116.00 C337.70 126.00 338.22 134.00 338.90 144.00 C339.57 154.00 340.37 166.00 341.10 176.00 C341.83 186.00 342.78 197.33 343.30 204.00 C343.82 210.67 343.82 212.33 344.20 216.00 C344.58 219.67 345.13 223.38 345.60 226.00 C346.07 228.62 346.57 230.48 347.00 231.70 C347.43 232.92 347.80 233.30 348.20 233.30 C348.60 233.30 348.97 232.92 349.40 231.70 C349.83 230.48 350.28 228.62 350.80 226.00 C351.32 223.38 351.98 219.67 352.50 216.00 C353.02 212.33 353.33 210.67 353.90 204.00 C354.47 197.33 355.15 186.00 355.90 176.00 C356.65 166.00 357.77 154.00 358.40 144.00 C359.03 134.00 359.30 125.00 359.70 116.00 C360.10 107.00 360.62 94.33 360.80 90.00" stroke="#ff0000" stroke-width="2.3" fill="none"/>
<text x="14.8" y="39.40" text-anchor="end" font-size="10.6" font-weight="bold" fill="#666666" stroke="#666666" stroke-width="0.15">3.0</text>
<text x="14.8" y="72.20" text-anchor="end" font-size="10.6" font-weight="bold" fill="#666666" stroke="#666666" stroke-width="0.15">2.5</text>
<text x="14.8" y="105.00" text-anchor="end" font-size="10.6" font-weight="bold" fill="#666666" stroke="#666666" stroke-width="0.15">2.0</text>
<text x="14.8" y="137.80" text-anchor="end" font-size="10.6" font-weight="bold" fill="#666666" stroke="#666666" stroke-width="0.15">1.5</text>
<text x="14.8" y="170.60" text-anchor="end" font-size="10.6" font-weight="bold" fill="#666666" stroke="#666666" stroke-width="0.15">1.0</text>
<text x="14.8" y="203.40" text-anchor="end" font-size="10.6" font-weight="bold" fill="#666666" stroke="#666666" stroke-width="0.15">0.5</text>
<text x="72.82" y="250.5" text-anchor="middle" font-size="10.6" font-weight="bold" fill="#666666" stroke="#666666" stroke-width="0.15">10</text>
<text x="127.24" y="250.5" text-anchor="middle" font-size="10.6" font-weight="bold" fill="#666666" stroke="#666666" stroke-width="0.15">100</text>
<text x="181.66" y="250.5" text-anchor="middle" font-size="10.6" font-weight="bold" fill="#666666" stroke="#666666" stroke-width="0.15">1000</text>
<text x="226.58" y="248.8" font-size="10.6" font-weight="bold" fill="#666666" stroke="#666666" stroke-width="0.15">10<tspan dy="-4.9" font-size="9.4">4</tspan></text>
<text x="281.00" y="248.8" font-size="10.6" font-weight="bold" fill="#666666" stroke="#666666" stroke-width="0.15">10<tspan dy="-4.9" font-size="9.4">5</tspan></text>
<text x="335.42" y="248.8" font-size="10.6" font-weight="bold" fill="#666666" stroke="#666666" stroke-width="0.15">10<tspan dy="-4.9" font-size="9.4">6</tspan></text>
<text x="376.4" y="239.8" font-size="14.5" font-weight="bold" fill="#666666">t</text>
<text x="10.35" y="15.2" font-size="15.8" font-style="italic" fill="#555555">ϵ</text>
<text x="17.7" y="17.7" font-size="11.7" font-style="italic" fill="#555555" stroke="#555555" stroke-width="0.45">H</text>
<text x="52.9" y="183.1" font-size="12.2" font-style="italic" stroke="#000" stroke-width="0.2" fill="#000">ϕ</text>
<text x="60.7" y="184.6" font-size="10.2" font-style="italic" font-weight="bold" stroke="#000" stroke-width="0.2" fill="#000">B</text>
<text x="70.9" y="183.1" font-size="10.3"  fill="#000">=</text>
<text x="79.3" y="182.7" font-size="10.3" font-weight="bold" stroke="#000" stroke-width="0.2" fill="#000">−3,</text>
<text x="100.8" y="183.1" font-size="12.2" font-style="italic" stroke="#000" stroke-width="0.2" fill="#000">ϕ</text>
<circle cx="103.9" cy="171.8" r="0.65" fill="#222"/>
<text x="108.1" y="184.6" font-size="10.2" font-style="italic" font-weight="bold" stroke="#000" stroke-width="0.2" fill="#000">B</text>
<text x="118.2" y="182.7" font-size="10.3" font-weight="bold" stroke="#000" stroke-width="0.2" fill="#000">&gt;</text>
<text x="126.7" y="182.7" font-size="10.3" font-weight="bold" stroke="#000" stroke-width="0.2" fill="#000">0</text>
</svg>
</body></html>
